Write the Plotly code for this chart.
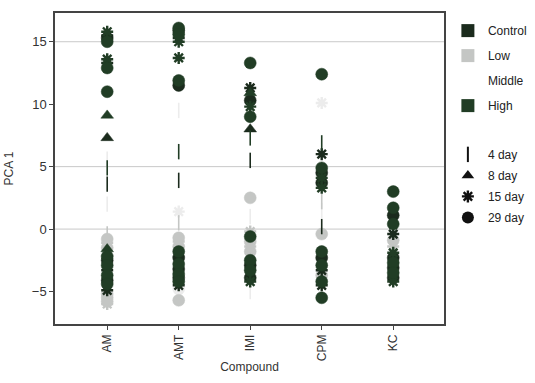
import plotly.graph_objects as go

compounds = ["AM", "AMT", "IMI", "CPM", "KC"]

# per-compound values: PCA 1 score, dose group, exposure day
am_pca = [15.8, 15.5, 15.0, 15.3, 13.6, 13.3, 12.9, 11.0, 9.1, 7.3, 4.9, 3.6, 5.6, 2.0,
          -0.4, -0.8, -1.1, -1.5, -1.6, -2.2, -2.5, -2.9, -3.3, -3.7, -4.1, -4.4, -4.9,
          -5.2, -5.5, -5.8, -6.0, -3.0, -1.9]
am_dose = ["High", "Control", "High", "Control", "High", "Control", "High", "High", "High", "Control",
           "High", "Control", "Middle", "Middle",
           "Low", "Low", "Low", "Low", "High", "High", "Control", "High", "Control", "High",
           "Control", "High", "Control", "Low", "Low", "Low", "Low", "Middle", "Low"]
am_day = [15, 15, 29, 29, 15, 15, 29, 29, 8, 8, 4, 4, 4, 4,
          4, 29, 15, 29, 8, 29, 29, 29, 15, 29, 29, 29, 15, 29, 29, 29, 15, 29, 8]

amt_pca = [16.1, 15.9, 15.6, 15.3, 15.0, 13.7, 11.9, 11.5, 6.2, 3.9, 9.5, 1.4, 0.5,
           -0.7, -1.0, -1.4, -1.8, -2.3, -2.8, -3.2, -3.6, -3.9, -4.2, -4.5, -5.7, -2.0, -4.8]
amt_dose = ["High", "Control", "High", "Control", "High", "High", "High", "Control", "High", "Control",
            "Middle", "Middle", "Low",
            "Low", "Low", "Low", "High", "Control", "High", "Control", "High", "Control", "High",
            "Control", "Low", "Low", "Middle"]
amt_day = [29, 29, 29, 15, 15, 15, 29, 29, 4, 4, 4, 15, 4,
           29, 15, 29, 29, 29, 29, 29, 29, 29, 29, 15, 29, 8, 29]

imi_pca = [13.3, 11.3, 10.9, 10.3, 9.8, 9.0, 8.0, 7.3, 5.5, 2.5, 1.0,
           -0.2, -0.6, -1.0, -1.4, -1.8, -2.5, -2.9, -3.3, -3.9, -4.2, -5.0]
imi_dose = ["High", "Control", "High", "Control", "High", "High", "Control", "High", "Control", "Low", "Middle",
            "Low", "High", "Low", "Low", "Low", "High", "Control", "High", "Control", "High", "Middle"]
imi_day = [29, 15, 8, 29, 15, 29, 8, 4, 4, 29, 4,
           15, 29, 29, 15, 29, 29, 29, 29, 29, 15, 4]

cpm_pca = [12.4, 10.1, 6.9, 6.0, 4.9, 4.5, 4.1, 3.7, 3.3, 2.2, 1.5, 0.2,
           -0.4, -1.8, -2.3, -2.9, -3.3, -3.7, -4.2, -4.5, -5.5]
cpm_dose = ["High", "Middle", "High", "Control", "High", "Control", "High", "Control", "High", "Low", "Middle",
            "Control", "Low", "High", "Control", "High", "Control", "Low", "High", "Control", "High"]
cpm_day = [29, 15, 4, 15, 29, 29, 15, 29, 15, 4, 4, 4,
           29, 29, 29, 29, 15, 29, 29, 15, 29]

kc_pca = [3.0, 1.7, 1.1, 0.4, -0.4, -0.9, -1.4, -1.9, -2.3, -2.7, -3.1, -3.5, -3.9, -4.2]
kc_dose = ["High", "High", "Control", "High", "Control", "Low", "Low", "High", "Control", "High",
           "Control", "High", "Control", "High"]
kc_day = [29, 29, 29, 29, 15, 29, 15, 15, 29, 29, 29, 29, 29, 15]

dose_levels = ["Control", "Low", "Middle", "High"]
day_levels = [4, 8, 15, 29]
ref_lines = [15, 5, 0]
y_ticks = [-5, 0, 5, 10, 15]

dose_colors = {"Control": "#1b2b1d", "Low": "#c4c6c4", "Middle": "#ececec", "High": "#213d25"}
day_symbols = {4: "line-ns", 8: "triangle-up", 15: "asterisk", 29: "circle"}
day_sizes = {4: 11, 8: 11, 15: 10, 29: 12}

rows = []
for name, p, d, t in [("AM", am_pca, am_dose, am_day), ("AMT", amt_pca, amt_dose, amt_day),
                      ("IMI", imi_pca, imi_dose, imi_day), ("CPM", cpm_pca, cpm_dose, cpm_day),
                      ("KC", kc_pca, kc_dose, kc_day)]:
    for v, dd, tt in zip(p, d, t):
        rows.append((name, v, dd, tt))

fig = go.Figure()

# data traces: lighter doses first so dark markers sit on top
for dose in ["Middle", "Low", "Control", "High"]:
    for day in day_levels:
        sel = [r for r in rows if r[2] == dose and r[3] == day]
        if not sel:
            continue
        col = dose_colors[dose]
        lw = {4: 1.6, 8: 0.5, 15: 2.4, 29: 0.5}[day]
        fig.add_trace(go.Scatter(
            x=[r[0] for r in sel], y=[r[1] for r in sel], mode="markers",
            showlegend=False, hoverinfo="skip",
            marker=dict(symbol=day_symbols[day], size=day_sizes[day], color=col,
                        line=dict(color=col, width=lw)),
        ))

# legend entries: dose colours (legend) and exposure days (legend2)
for i, dose in enumerate(dose_levels):
    fig.add_trace(go.Scatter(
        x=[None], y=[None], mode="markers", name=dose, legendgroup="d" + str(i), legend="legend",
        marker=dict(symbol="square", size=13, color=dose_colors[dose] if dose != "Middle" else "#ffffff",
                    line=dict(width=0)),
    ))
for i, day in enumerate(day_levels):
    fig.add_trace(go.Scatter(
        x=[None], y=[None], mode="markers", name=f"{day} day", legendgroup="t" + str(i), legend="legend2",
        marker=dict(symbol=day_symbols[day], size=day_sizes[day], color="#111111",
                    line=dict(color="#111111", width={4: 2, 8: 0, 15: 2.4, 29: 0}[day])),
    ))

for yv in ref_lines:
    fig.add_shape(type="line", xref="paper", x0=0, x1=1, yref="y", y0=yv, y1=yv,
                  line=dict(color="#c9c9c9", width=1), layer="below")

legend_common = dict(x=1.01, xanchor="left", yanchor="top", traceorder="grouped",
                     font=dict(size=12, color="#222222"), maxheight=1,
                     bgcolor="rgba(0,0,0,0)", itemwidth=30)

fig.update_layout(
    width=535, height=383,
    margin=dict(l=55, r=91, t=13, b=59, autoexpand=False),
    paper_bgcolor="white", plot_bgcolor="white",
    font=dict(family="Liberation Sans, Arial, sans-serif", size=12, color="#333333"),
    showlegend=True,
    legend=dict(y=0.99, tracegroupgap=6, **legend_common),
    legend2=dict(y=0.592, tracegroupgap=2, **legend_common),
)
fig.update_xaxes(
    type="category", categoryorder="array", categoryarray=compounds,
    range=[-0.73, 4.71], showgrid=False, zeroline=False,
    showline=True, linecolor="#444444", linewidth=1.5, mirror=True,
    ticks="outside", ticklen=4, tickcolor="#444444", tickangle=-90,
    tickfont=dict(size=12, color="#333333"),
    title=dict(text="Compound", standoff=2, font=dict(size=12, color="#333333")),
    automargin=False,
)
fig.update_yaxes(
    range=[-7.6, 17.3], tickvals=y_ticks, showgrid=False, zeroline=False,
    showline=True, linecolor="#444444", linewidth=1.5, mirror=True,
    ticks="outside", ticklen=4, tickcolor="#444444",
    tickfont=dict(size=13, color="#333333"),
    title=dict(text="PCA 1", standoff=16, font=dict(size=12, color="#333333")),
    automargin=False,
)

fig.write_html("out.html", config={"displayModeBar": False},
               post_script="document.body.style.margin='0';")
